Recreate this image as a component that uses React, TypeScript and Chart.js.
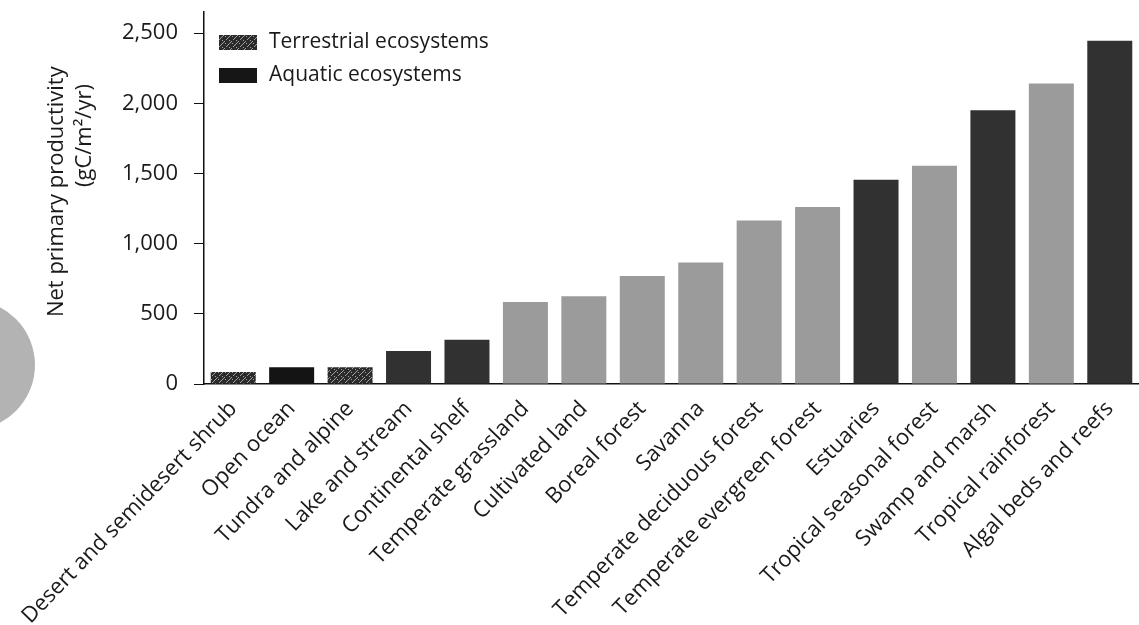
import React, { useEffect, useRef } from 'react';
import { Chart, registerables } from 'chart.js';

Chart.register(...registerables);

const categories = [
  'Desert and semidesert shrub',
  'Open ocean',
  'Tundra and alpine',
  'Lake and stream',
  'Continental shelf',
  'Temperate grassland',
  'Cultivated land',
  'Boreal forest',
  'Savanna',
  'Temperate deciduous forest',
  'Temperate evergreen forest',
  'Estuaries',
  'Tropical seasonal forest',
  'Swamp and marsh',
  'Tropical rainforest',
  'Algal beds and reefs',
];

const terrestrialValues = [85, null, 120, null, null, 585, 625, 770, 865, 1165, 1260, null, 1555, null, 2140, null];
const aquaticValues = [null, 120, null, 235, 315, null, null, null, null, null, null, 1455, null, 1950, null, 2445];

const seriesNames = ['Terrestrial ecosystems', 'Aquatic ecosystems'];
const yTickValues = [0, 500, 1000, 1500, 2000, 2500];
const yTitleLines = ['Net primary productivity', '(gC/m²/yr)'];

const FONT = "'Open Sans', 'Noto Sans', sans-serif";

function makeSpeckle(): CanvasPattern | string {
  const c = document.createElement('canvas');
  c.width = 7;
  c.height = 7;
  const g = c.getContext('2d');
  if (!g) return '#3a3a3a';
  g.fillStyle = '#2b2b2b';
  g.fillRect(0, 0, 7, 7);
  g.fillStyle = '#a0a0a0';
  const dots = [[1, 1], [4, 2], [2, 4], [5, 5], [0, 6], [6, 0], [3, 3], [5, 1]];
  dots.forEach(([x, y]) => g.fillRect(x, y, 1, 1));
  return g.createPattern(c, 'repeat') || '#3a3a3a';
}

export default function App() {
  const canvasRef = useRef<HTMLCanvasElement | null>(null);

  useEffect(() => {
    const canvas = canvasRef.current;
    if (!canvas) return;
    const speckle = makeSpeckle();

    const terrestrialColor = (ctx: any) => {
      const v = ctx.raw as number;
      return v !== null && v < 200 ? speckle : '#9b9b9b';
    };
    const aquaticColor = (ctx: any) => {
      const v = ctx.raw as number;
      return v !== null && v < 200 ? '#141414' : '#313131';
    };
    const swatches = [speckle, '#161616'];

    const legendPlugin = {
      id: 'insideLegend',
      afterDraw(chart: any) {
        const { ctx, chartArea } = chart;
        const x0 = chartArea.left + 15;
        const rows = [chartArea.top + 30, chartArea.top + 63];
        chart.data.datasets.forEach((ds: any, i: number) => {
          ctx.save();
          ctx.fillStyle = swatches[i];
          ctx.fillRect(x0, rows[i] - 7, 38, 15);
          ctx.fillStyle = '#1a1a1a';
          ctx.font = `21px ${FONT}`;
          ctx.textBaseline = 'middle';
          ctx.textAlign = 'left';
          ctx.fillText(ds.label, x0 + 50, rows[i]);
          ctx.restore();
        });
      },
    };

    const yTitlePlugin = {
      id: 'yTitle',
      afterDraw(chart: any) {
        const { ctx } = chart;
        const y = chart.scales.y;
        const spots = [
          { x: y.left + 57, yv: 1370 },
          { x: y.left + 85, yv: 1770 },
        ];
        yTitleLines.forEach((line, i) => {
          ctx.save();
          ctx.translate(spots[i].x, y.getPixelForValue(spots[i].yv));
          ctx.rotate(-Math.PI / 2);
          ctx.font = `22px ${FONT}`;
          ctx.fillStyle = '#1a1a1a';
          ctx.textAlign = 'center';
          ctx.textBaseline = 'middle';
          ctx.fillText(line, 0, 0);
          ctx.restore();
        });
      },
    };

    const chart = new Chart(canvas, {
      type: 'bar',
      data: {
        labels: categories,
        datasets: [
          {
            label: seriesNames[0],
            data: terrestrialValues,
            backgroundColor: terrestrialColor,
            grouped: false,
            barPercentage: 0.77,
            categoryPercentage: 1,
          } as any,
          {
            label: seriesNames[1],
            data: aquaticValues,
            backgroundColor: aquaticColor,
            grouped: false,
            barPercentage: 0.77,
            categoryPercentage: 1,
          } as any,
        ],
      },
      options: {
        responsive: true,
        maintainAspectRatio: false,
        animation: false,
        layout: { padding: { top: 12, left: 0, right: 0, bottom: 0 } },
        plugins: {
          legend: { display: false },
          tooltip: { enabled: false },
          title: { display: false },
        },
        scales: {
          x: {
            grid: { display: true, drawOnChartArea: false, drawTicks: false },
            border: { display: true, color: '#111', width: 1.5 },
            ticks: {
              autoSkip: false,
              minRotation: 46,
              maxRotation: 46,
              padding: 12,
              color: '#1a1a1a',
              font: { family: FONT, size: 22 },
            },
            afterFit: (scale: any) => {
              scale.height = 241;
              scale.paddingLeft = 0;
              scale.paddingRight = 0;
            },
          } as any,
          y: {
            min: 0,
            max: 2650,
            afterBuildTicks: (scale: any) => {
              scale.ticks = yTickValues.map((v) => ({ value: v }));
            },
            grid: { display: true, drawOnChartArea: false, drawTicks: true, tickLength: 10, color: '#111', lineWidth: 1 },
            border: { display: true, color: '#111', width: 1.5 },
            ticks: {
              padding: 16,
              color: '#1a1a1a',
              font: { family: FONT, size: 22 },
              callback: (v: any) => Number(v).toLocaleString('en-US'),
            },
            afterFit: (scale: any) => {
              scale.width = 204;
              scale.paddingTop = 0;
              scale.paddingBottom = 0;
            },
          } as any,
        },
      },
      plugins: [legendPlugin, yTitlePlugin],
    });

    return () => chart.destroy();
  }, []);

  return (
    <div style={{ position: 'absolute', left: 0, top: 0, width: 1139, height: 625, overflow: 'hidden', background: '#fff' }}>
      <div
        style={{
          position: 'absolute',
          left: -95,
          top: 300,
          width: 130,
          height: 130,
          borderRadius: '50%',
          background: '#b3b3b3',
        }}
      />
      <canvas ref={canvasRef} style={{ position: 'relative' }} />
    </div>
  );
}
